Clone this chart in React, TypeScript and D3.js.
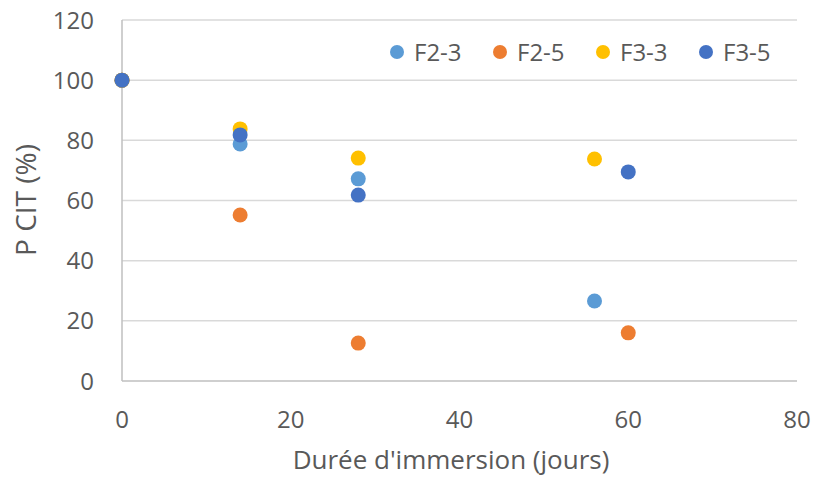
import React from "react";
import * as d3 from "d3";

const days = [0, 14, 28, 56, 60];
const seriesNames = ["F2-3", "F2-5", "F3-3", "F3-5"];
const seriesColors = ["#5B9BD5", "#ED7D31", "#FFC000", "#4472C4"];
const f23X = [0, 14, 28, 56];
const f23Y = [100, 78.8, 67.2, 26.6];
const f25X = [0, 14, 28, 60];
const f25Y = [100, 55.2, 12.6, 16.0];
const f33X = [0, 14, 28, 56];
const f33Y = [100, 83.8, 74.1, 73.8];
const f35X = [0, 14, 28, 60];
const f35Y = [100, 81.8, 61.8, 69.5];
const xTicks = [0, 20, 40, 60, 80];
const yTicks = [0, 20, 40, 60, 80, 100, 120];
const xTitle = "Durée d'immersion (jours)";
const yTitle = "P CIT (%)";

const W = 816;
const H = 482;
const FONT = "'Open Sans', sans-serif";
const TXT = "#595959";

export default function App() {
  const x = d3.scaleLinear().domain([0, 80]).range([122, 797]);
  const y = d3.scaleLinear().domain([0, 120]).range([381, 20]);
  const series = [
    { xs: f23X, ys: f23Y },
    { xs: f25X, ys: f25Y },
    { xs: f33X, ys: f33Y },
    { xs: f35X, ys: f35Y },
  ];
  void days;
  return (
    <svg width={W} height={H} style={{ position: "absolute", left: 0, top: 0, background: "#fff" }}>
      <rect x={0} y={0} width={W} height={H} fill="#fff" />
      {yTicks.filter((t) => t > 0).map((t) => (
        <line key={"g" + t} x1={x(0)} x2={x(80)} y1={y(t)} y2={y(t)} stroke="#D9D9D9" strokeWidth={1.5} />
      ))}
      <line x1={x(0)} x2={x(0)} y1={y(120)} y2={y(0)} stroke="#BFBFBF" strokeWidth={1.5} />
      <line x1={x(0)} x2={x(80)} y1={y(0)} y2={y(0)} stroke="#BFBFBF" strokeWidth={1.5} />
      {yTicks.map((t) => (
        <text key={"yt" + t} x={94} y={y(t) + 8.5} textAnchor="end" fontFamily={FONT} fontSize={24} fill={TXT}>
          {t}
        </text>
      ))}
      {xTicks.map((t) => (
        <text key={"xt" + t} x={x(t)} y={428} textAnchor="middle" fontFamily={FONT} fontSize={24} fill={TXT}>
          {t}
        </text>
      ))}
      <text x={451} y={469} textAnchor="middle" fontFamily={FONT} fontSize={26} fill={TXT}>
        {xTitle}
      </text>
      <text transform={`translate(36,200) rotate(-90)`} textAnchor="middle" fontFamily={FONT} fontSize={28} fill={TXT}>
        {yTitle}
      </text>
      {series.map((s, i) => (
        <g key={"s" + i}>
          {s.xs.map((xv, j) => (
            <circle key={j} cx={x(xv)} cy={y(s.ys[j])} r={7.5} fill={seriesColors[i]} />
          ))}
        </g>
      ))}
      {seriesNames.map((n, i) => (
        <g key={"l" + i} transform={`translate(${397 + i * 103},0)`}>
          <circle cx={0} cy={52} r={7} fill={seriesColors[i]} />
          <text x={17} y={61} fontFamily={FONT} fontSize={24} fill={TXT}>
            {n}
          </text>
        </g>
      ))}
    </svg>
  );
}
